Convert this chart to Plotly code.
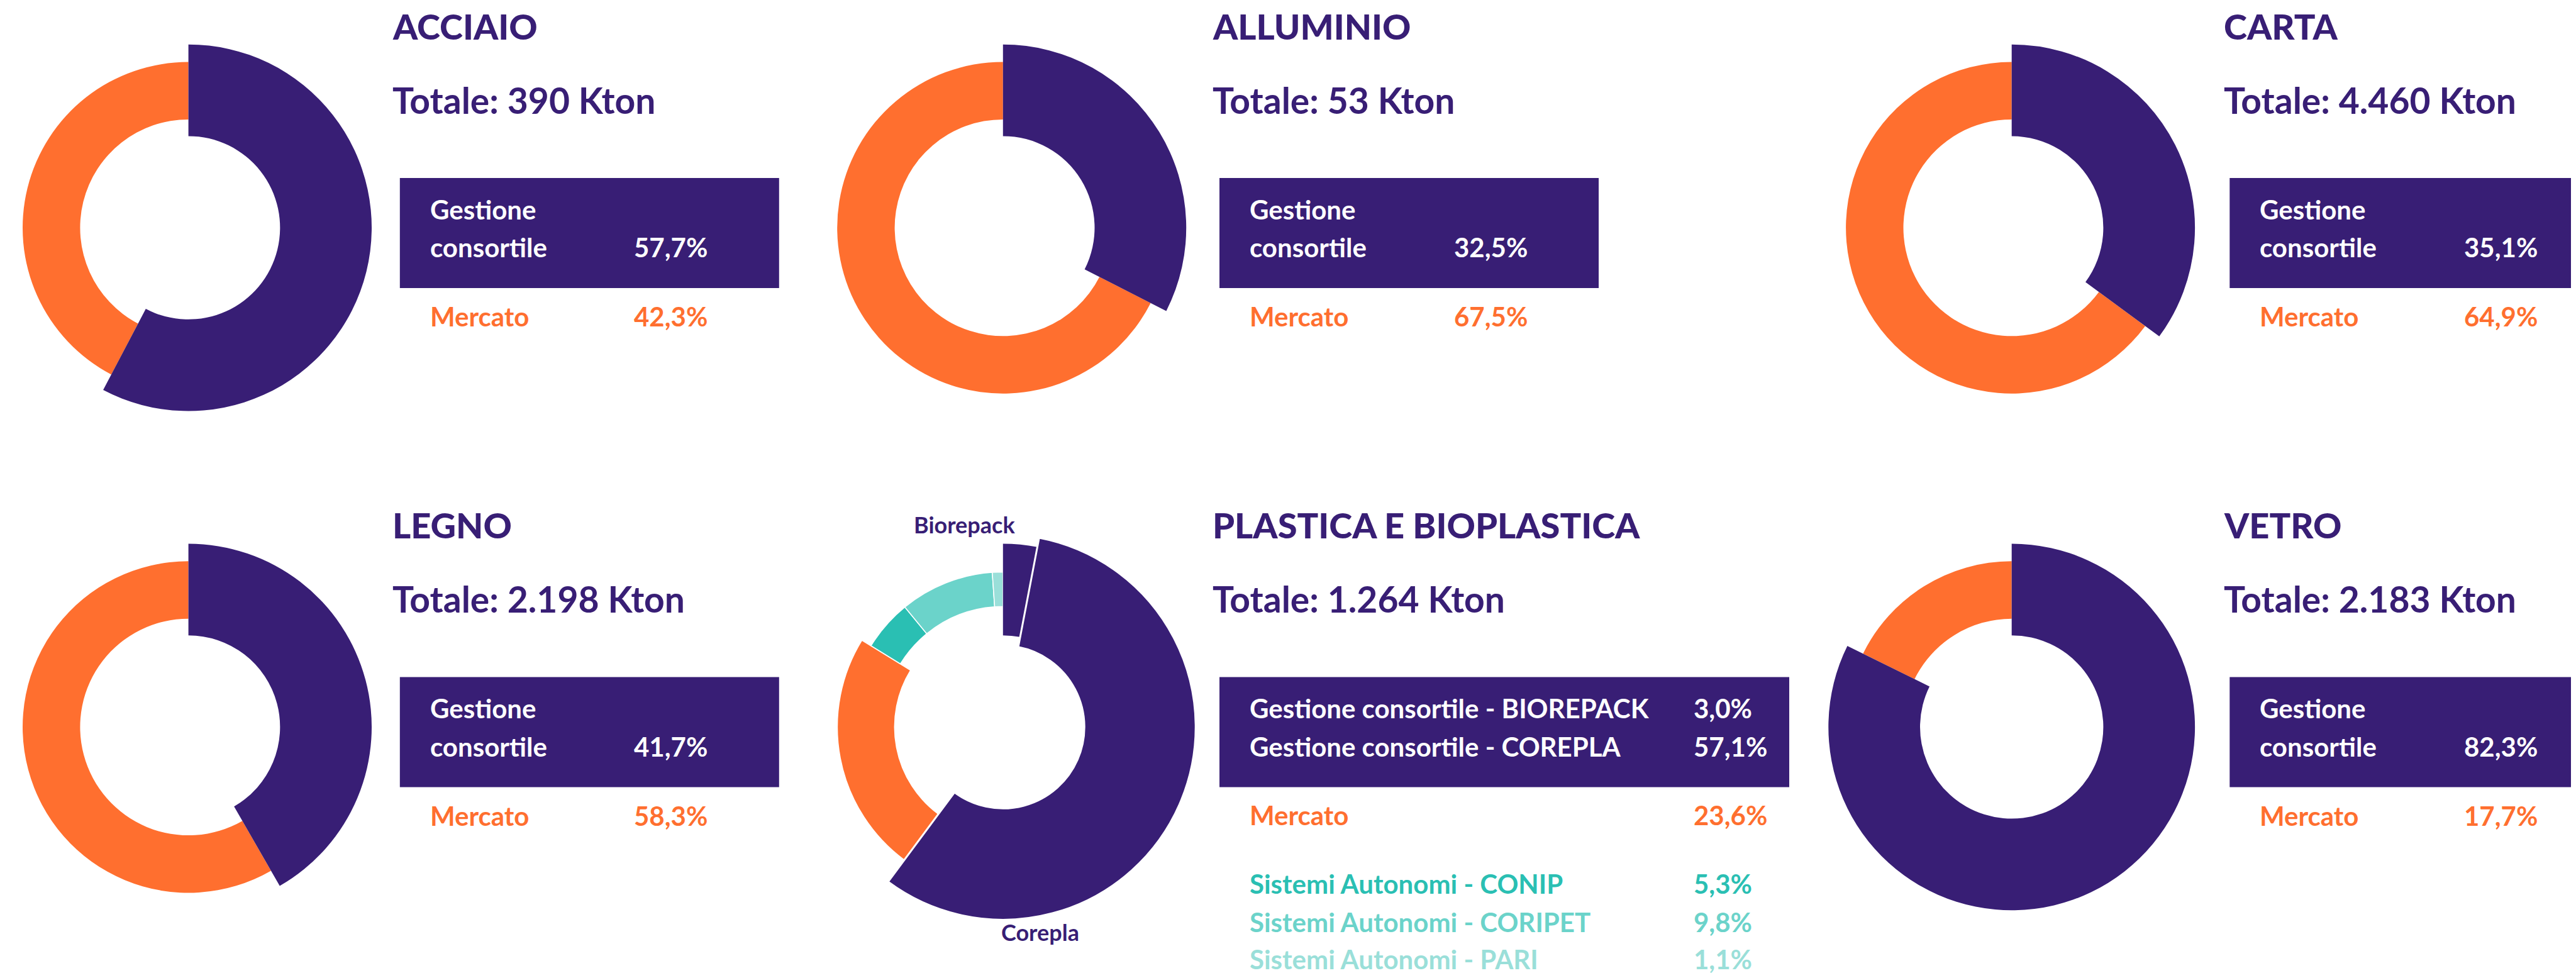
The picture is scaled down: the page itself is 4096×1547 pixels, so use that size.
import plotly.graph_objects as go

# ---------------- data ----------------
materials = ["ACCIAIO", "ALLUMINIO", "CARTA", "LEGNO", "PLASTICA E BIOPLASTICA", "VETRO"]
totals_kton = ["390", "53", "4.460", "2.198", "1.264", "2.183"]
gestione_pct = [57.7, 32.5, 35.1, 41.7, None, 82.3]
mercato_pct = [42.3, 67.5, 64.9, 58.3, 23.6, 17.7]

plastica_labels = ["Gestione consortile - BIOREPACK", "Gestione consortile - COREPLA", "Mercato",
                   "Sistemi Autonomi - CONIP", "Sistemi Autonomi - CORIPET", "Sistemi Autonomi - PARI"]
plastica_pct = [3.0, 57.1, 23.6, 5.3, 9.8, 1.1]
plastica_slice_names = ["Biorepack", "Corepla"]

# ---------------- style / layout ----------------
W, H = 4096, 1547
PURPLE = "#381E75"
ORANGE = "#FF6F2F"
CONIP = "#2ABFB3"
CORIPET = "#6BD3CA"
PARI = "#9ADFD9"
CLEAR = "rgba(0,0,0,0)"
FONT = "Lato"
TITLE_FONT = "Lato Black, Lato"

col_cx = [291.6, 1586.8, 3190.7]
row_cy = [354.1, 1147.9]
text_left = [613.9, 1918.0, 3525.6]
box_left = [627.8, 1931.0, 3537.3]
TXT_IN = 46       # text inset inside the boxes
PCT_IN = 370.5    # percentage column inset
PCT_IN_PLAST = 752.4
BOX_W = 603
BOX_W_PLAST = 906
row_off = [0, 793.6]

# ring radii (inner, outer)
R_PURPLE = (145.7, 291.4)
R_ORANGE = (172.2, 263.6)
R_COREPLA = (129.4, 306.4)
R_TEAL = (191.6, 246.4)


def X(px):
    return px / W


def Y(py):
    return 1 - py / H


def fmt(v):
    return f"{v:.1f}".replace(".", ",") + "%"


def clamp(v):
    return min(1.0, max(0.0, v))


def pie(values, colors, cx, cy, rin, rout, line_colors=None, line_w=0):
    return go.Pie(
        values=values,
        sort=False, direction="clockwise", rotation=0,
        hole=rin / rout,
        marker=dict(colors=colors,
                    line=dict(color=line_colors if line_colors else [CLEAR] * len(values), width=line_w)),
        textinfo="none", hoverinfo="none", showlegend=False,
        domain=dict(x=[clamp(X(cx - rout)), clamp(X(cx + rout))],
                    y=[clamp(Y(cy + rout)), clamp(Y(cy - rout))]),
    )


fig = go.Figure()
annotations = []
shapes = []


def ann(text, x, baseline, size, color, xanchor="left", weight=700, family=FONT):
    annotations.append(dict(
        text=text, x=X(x), y=Y(baseline - 0.53 * size),
        xref="paper", yref="paper", xanchor=xanchor, yanchor="middle",
        showarrow=False, font=dict(family=family, size=size, color=color, weight=weight),
    ))


def rect(x0, x1, y0, y1):
    shapes.append(dict(type="rect", xref="paper", yref="paper",
                       x0=X(x0), x1=X(x1), y0=Y(y1), y1=Y(y0),
                       fillcolor=PURPLE, line=dict(width=0), layer="below"))


TITLE_FS = 56
TOT_FS = 57
BOX_FS = 42

positions = {0: (0, 0), 1: (0, 1), 2: (0, 2), 3: (1, 0), 4: (1, 1), 5: (1, 2)}

for i, name in enumerate(materials):
    r, c = positions[i]
    cx, cy = col_cx[c], row_cy[r]
    dy = row_off[r]
    ann(name, text_left[c], 62.7 + dy, TITLE_FS, PURPLE, weight=900, family=TITLE_FONT)
    ann(f"Totale: {totals_kton[i]} Kton", text_left[c], 181.0 + dy, TOT_FS, PURPLE)
    bx = box_left[c]
    if i != 4:
        g, m = gestione_pct[i], mercato_pct[i]
        fig.add_trace(pie([g, m], [CLEAR, ORANGE], cx, cy, *R_ORANGE))
        fig.add_trace(pie([g, m], [PURPLE, CLEAR], cx, cy, *R_PURPLE))
        rect(bx, bx + BOX_W, 275.0 + dy, 450.0 + dy)
        ann("Gestione", bx + TXT_IN, 347.0 + dy, BOX_FS, "white")
        ann("consortile", bx + TXT_IN, 407.5 + dy, BOX_FS, "white")
        ann(fmt(g), bx + PCT_IN, 407.5 + dy, BOX_FS, "white")
        ann("Mercato", bx + TXT_IN, 517.4 + dy, BOX_FS, ORANGE)
        ann(fmt(m), bx + PCT_IN, 517.4 + dy, BOX_FS, ORANGE)
    else:
        vals = plastica_pct
        wl = "white"
        fig.add_trace(pie(vals, [CLEAR, CLEAR, ORANGE, CLEAR, CLEAR, CLEAR], cx, cy, *R_ORANGE,
                          line_colors=[CLEAR, CLEAR, wl, CLEAR, CLEAR, CLEAR], line_w=2))
        fig.add_trace(pie(vals, [CLEAR, CLEAR, CLEAR, CONIP, CORIPET, PARI], cx, cy, *R_TEAL,
                          line_colors=[CLEAR, CLEAR, CLEAR, wl, wl, wl], line_w=1.5))
        fig.add_trace(pie(vals, [PURPLE, CLEAR, CLEAR, CLEAR, CLEAR, CLEAR], cx, cy, *R_PURPLE))
        fig.add_trace(pie(vals, [CLEAR, PURPLE, CLEAR, CLEAR, CLEAR, CLEAR], cx, cy, *R_COREPLA,
                          line_colors=[CLEAR, wl, CLEAR, CLEAR, CLEAR, CLEAR], line_w=3))
        rect(bx, bx + BOX_W_PLAST, 275.0 + dy, 450.0 + dy)
        pl = bx + PCT_IN_PLAST
        ann(plastica_labels[0], bx + TXT_IN, 1140.4, BOX_FS, "white")
        ann(fmt(vals[0]), pl, 1140.4, BOX_FS, "white")
        ann(plastica_labels[1], bx + TXT_IN, 1201.4, BOX_FS, "white")
        ann(fmt(vals[1]), pl, 1201.4, BOX_FS, "white")
        ann(plastica_labels[2], bx + TXT_IN, 1310.4, BOX_FS, ORANGE)
        ann(fmt(vals[2]), pl, 1310.4, BOX_FS, ORANGE)
        for lab, v, col, base in zip(plastica_labels[3:], vals[3:], [CONIP, CORIPET, PARI],
                                     [1419.7, 1480.0, 1539.0]):
            ann(lab, bx + TXT_IN, base, BOX_FS, col)
            ann(fmt(v), pl, base, BOX_FS, col)
        ann(plastica_slice_names[0], 1607.5, 844.6, 36, PURPLE, xanchor="right")
        ann(plastica_slice_names[1], 1581.9, 1493.2, 36, PURPLE, xanchor="left")

fig.update_layout(
    width=W, height=H,
    margin=dict(l=0, r=0, t=0, b=0, pad=0),
    paper_bgcolor="white", plot_bgcolor="white",
    showlegend=False,
    annotations=annotations,
    shapes=shapes,
)

fig.write_html("out.html")
